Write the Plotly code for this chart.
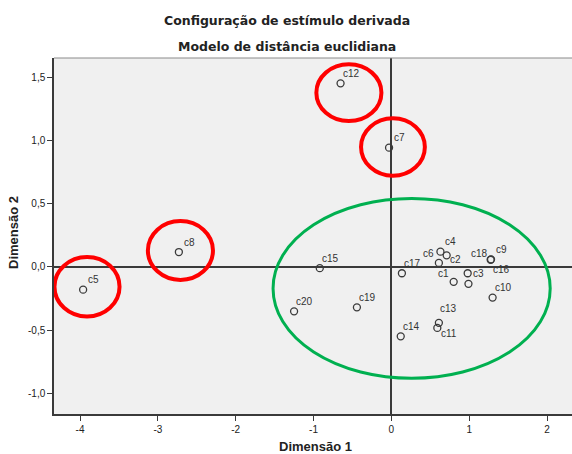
import plotly.graph_objects as go

# ---- data ----
labels = ["c1", "c2", "c3", "c4", "c5", "c6", "c7", "c8", "c9", "c10",
          "c11", "c12", "c13", "c14", "c15", "c16", "c17", "c18", "c19", "c20"]
dim1 = [0.80, 0.71, 0.99, 0.63, -3.96, 0.61, -0.03, -2.73, 1.275, 1.30,
        0.59, -0.653, 0.61, 0.12, -0.92, 0.98, 0.135, 1.28, -0.443, -1.25]
dim2 = [-0.118, 0.092, -0.134, 0.121, -0.18, 0.032, 0.945, 0.118, 0.057, -0.243,
        -0.483, 1.454, -0.443, -0.55, -0.01, -0.05, -0.05, 0.06, -0.32, -0.352]

x_ticks = [-4, -3, -2, -1, 0, 1, 2]
x_ticklabels = ["-4", "-3", "-2", "-1", "0", "1", "2"]
y_ticks = [1.5, 1.0, 0.5, 0.0, -0.5, -1.0]
y_ticklabels = ["1,5", "1,0", "0,5", "0,0", "-0,5", "-1,0"]

title_1 = "Configuração de estímulo derivada"
title_2 = "Modelo de distância euclidiana"
x_title = "Dimensão 1"
y_title = "Dimensão 2"

# highlight ellipses (center x, center y, radius x, radius y) in data units
red_marks = [(-0.546, 1.38, 0.418, 0.225), (0.02, 0.95, 0.41, 0.228),
             (-2.71, 0.13, 0.418, 0.233), (-3.91, -0.157, 0.418, 0.235)]
green_marks = [(0.26, -0.17, 1.78, 0.712)]

# label offsets in pixels (dx right, dy up) - mostly default upper-right
label_shift = {lab: (10.5, 10) for lab in labels}
label_shift.update({
    "c6": (-10, 9), "c2": (8.5, -4.5), "c1": (-10, 8.6), "c16": (34, 3.7),
    "c18": (-12, 6), "c13": (10, 14.6), "c11": (11.6, -5.7),
})

W, H = 572, 454
ML, MR, MT, MB = 54, 0, 58, 40
PW, PH = W - ML - MR, H - MT - MB

FONT = "Liberation Sans, Arial, sans-serif"
TFONT = "DejaVu Sans, sans-serif"

fig = go.Figure()
fig.add_trace(go.Scatter(
    x=dim1, y=dim2, mode="markers",
    marker=dict(symbol="circle-open", size=7, color="#3a3a3a", line=dict(width=1.3)),
    hovertext=labels, showlegend=False,
))

annotations = []
for lab, xv, yv in zip(labels, dim1, dim2):
    dx, dy = label_shift[lab]
    annotations.append(dict(
        x=xv, y=yv, xref="x", yref="y", text=lab, showarrow=False,
        xshift=dx, yshift=dy, font=dict(family=FONT, size=10, color="#333"),
    ))


def px_x(px):
    return (px - ML) / PW


def px_y(py):
    return (H - MB - py) / PH


annotations.append(dict(x=px_x(287), y=px_y(21), xref="paper", yref="paper",
                        text="<b>" + title_1 + "</b>", showarrow=False, xanchor="center", yanchor="middle",
                        font=dict(family=TFONT, size=12.5, color="#222")))
annotations.append(dict(x=px_x(287), y=px_y(47), xref="paper", yref="paper",
                        text="<b>" + title_2 + "</b>", showarrow=False, xanchor="center", yanchor="middle",
                        font=dict(family=TFONT, size=12.5, color="#222")))
annotations.append(dict(x=px_x(315), y=px_y(446), xref="paper", yref="paper",
                        text="<b>" + x_title + "</b>", showarrow=False, xanchor="center", yanchor="middle",
                        font=dict(family=FONT, size=13, color="#222")))
annotations.append(dict(x=px_x(13), y=px_y(233), xref="paper", yref="paper",
                        text="<b>" + y_title + "</b>", showarrow=False, xanchor="center", yanchor="middle",
                        textangle=-90, font=dict(family=FONT, size=13, color="#222")))

shapes = []
for cx, cy, rx, ry in red_marks:
    shapes.append(dict(type="circle", xref="x", yref="y", x0=cx - rx, x1=cx + rx,
                       y0=cy - ry, y1=cy + ry, line=dict(color="#FF0000", width=4)))
for cx, cy, rx, ry in green_marks:
    shapes.append(dict(type="circle", xref="x", yref="y", x0=cx - rx, x1=cx + rx,
                       y0=cy - ry, y1=cy + ry, line=dict(color="#00B050", width=3)))
# top frame line
shapes.append(dict(type="line", xref="paper", yref="paper", x0=0, x1=1, y0=1, y1=1,
                   line=dict(color="#8a8a8a", width=1)))

fig.update_layout(
    width=W, height=H,
    margin=dict(l=ML, r=MR, t=MT, b=MB, autoexpand=False),
    paper_bgcolor="white", plot_bgcolor="#F0F0F0",
    font=dict(family=FONT, size=10, color="#222"),
    annotations=annotations, shapes=shapes,
)
fig.update_xaxes(
    range=[-4.334, 2.32], tickvals=x_ticks, ticktext=x_ticklabels, automargin=False,
    showgrid=False, zeroline=True, zerolinecolor="#3a3a3a", zerolinewidth=1.5,
    showline=True, linecolor="#3a3a3a", linewidth=1.5,
    ticks="outside", ticklen=5, tickcolor="#3a3a3a", tickwidth=1,
    tickfont=dict(size=10, color="#222"),
)
fig.update_yaxes(
    range=[-1.165, 1.655], tickvals=y_ticks, ticktext=y_ticklabels, automargin=False,
    showgrid=False, zeroline=True, zerolinecolor="#3a3a3a", zerolinewidth=1.5,
    showline=True, linecolor="#3a3a3a", linewidth=1.5,
    ticks="outside", ticklen=5, tickcolor="#3a3a3a", tickwidth=1,
    tickfont=dict(size=10, color="#222"),
)

fig.write_html("out.html", config={"displayModeBar": False},
               post_script="document.body.style.margin='0';")
